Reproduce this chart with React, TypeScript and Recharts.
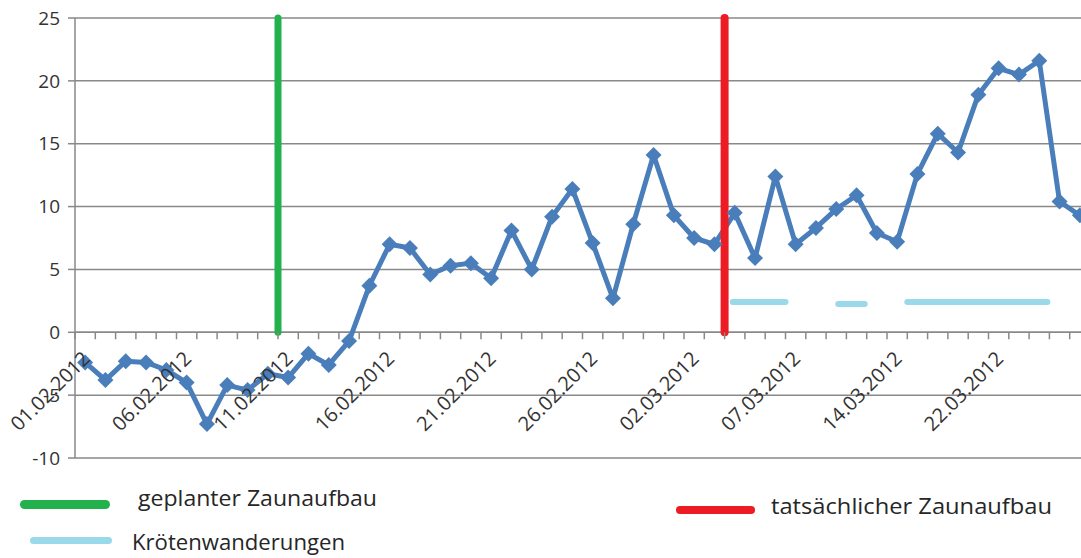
import React from "react"
import { LineChart, Line, XAxis, YAxis, CartesianGrid, ReferenceLine } from "recharts"

// Messtage (Kategorien der x-Achse)
const dates = [
  "01.02.2012", "02.02.2012", "03.02.2012", "04.02.2012", "05.02.2012",
  "06.02.2012", "07.02.2012", "08.02.2012", "09.02.2012", "10.02.2012",
  "11.02.2012", "12.02.2012", "13.02.2012", "14.02.2012", "15.02.2012",
  "16.02.2012", "17.02.2012", "18.02.2012", "19.02.2012", "20.02.2012",
  "21.02.2012", "22.02.2012", "23.02.2012", "24.02.2012", "25.02.2012",
  "26.02.2012", "27.02.2012", "28.02.2012", "29.02.2012", "01.03.2012",
  "02.03.2012", "03.03.2012", "04.03.2012", "05.03.2012", "06.03.2012",
  "07.03.2012", "08.03.2012", "10.03.2012", "11.03.2012", "13.03.2012",
  "14.03.2012", "15.03.2012", "17.03.2012", "18.03.2012", "20.03.2012",
  "22.03.2012", "23.03.2012", "24.03.2012", "25.03.2012", "26.03.2012",
]

// Temperaturwerte
const temps = [
  -2.4, -3.8, -2.3, -2.4, -3.0, -4.0, -7.3, -4.2, -4.6, -3.3,
  -3.6, -1.7, -2.6, -0.7, 3.7, 7.0, 6.7, 4.6, 5.3, 5.5,
  4.3, 8.1, 5.0, 9.2, 11.4, 7.1, 2.7, 8.6, 14.1, 9.3,
  7.5, 7.0, 9.5, 5.9, 12.4, 7.0, 8.3, 9.8, 10.9, 7.9,
  7.2, 12.6, 15.8, 14.3, 18.9, 21.0, 20.5, 21.6, 10.4, 9.3,
]

const yTicks = [-10, -5, 0, 5, 10, 15, 20, 25]

// Zaunaufbau: Grenze zwischen Messtagen (Index)
const geplanterZaun = 10
const tatsaechlicherZaun = 32

// Krötenwanderungen: [von, bis, Höhe]
const wanderungen = [
  [32.4, 35.0, 2.4],
  [37.6, 38.9, 2.25],
  [41.0, 47.9, 2.4],
]

const data = dates.map((d, i) => ({ pos: i + 0.5, datum: d, temp: temps[i] }))
const xTicks = Array.from({ length: dates.length + 1 }, (_, i) => i)

const CHART_W = 1100
const CHART_H = 558
const X_AXIS_H = 20
const MARGIN = { top: 18, right: 10, bottom: 100 - X_AXIS_H, left: 15 }
const Y_AXIS_W = 60
const PLOT_W = CHART_W - MARGIN.left - MARGIN.right - Y_AXIS_W
const PLOT_H = CHART_H - MARGIN.top - MARGIN.bottom - X_AXIS_H
const BAND = PLOT_W / dates.length
const ZERO_Y = MARGIN.top + (25 / 35) * PLOT_H

const BLUE = "#4A7EBB"
const GRID = "#898989"
const FONT = "'Open Sans', sans-serif"

const Diamond = (props: any) => {
  const { cx, cy } = props
  if (cx == null || cy == null) return null
  const r = 8
  return <path d={`M${cx} ${cy - r}L${cx + r} ${cy}L${cx} ${cy + r}L${cx - r} ${cy}Z`} fill={BLUE} />
}

const XTick = (props: any) => {
  const { x, payload } = props
  const v = payload.value
  const cx = x + BAND / 2
  const lx = cx + 6
  const ly = 360
  return (
    <g>
      <line x1={x} x2={x} y1={ZERO_Y} y2={ZERO_Y + 7} stroke={GRID} strokeWidth={1.5} />
      {v % 5 === 0 && v < dates.length && (
        <text
          x={lx}
          y={ly}
          textAnchor="end"
          transform={`rotate(-45 ${lx} ${ly})`}
          fill="#333"
          fontSize={20}
          fontFamily={FONT}
        >
          {dates[v]}
        </text>
      )}
    </g>
  )
}

export default function App() {
  return (
    <div style={{ position: "fixed", left: 0, top: 0, width: 1081, height: 558, overflow: "hidden", background: "#fff" }}>
      <LineChart width={CHART_W} height={CHART_H} data={data} margin={MARGIN}>
        <CartesianGrid vertical={false} stroke={GRID} strokeWidth={1.5} />
        <XAxis
          type="number"
          dataKey="pos"
          domain={[0, dates.length]}
          ticks={xTicks}
          interval={0}
          height={X_AXIS_H}
          axisLine={false}
          tickLine={false}
          tick={(p: any) => <XTick {...p} />}
        />
        <YAxis
          domain={[-10, 25]}
          ticks={yTicks}
          width={Y_AXIS_W}
          tickSize={7}
          tickMargin={8}
          axisLine={{ stroke: GRID, strokeWidth: 1.5 }}
          tickLine={{ stroke: GRID, strokeWidth: 1.5 }}
          tick={{ fill: "#333", fontSize: 19, fontFamily: FONT }}
        />
        <ReferenceLine y={0} stroke={GRID} strokeWidth={1.5} />
        <Line
          dataKey="temp"
          stroke={BLUE}
          strokeWidth={5}
          strokeLinejoin="round"
          dot={<Diamond />}
          activeDot={false}
          isAnimationActive={false}
        />
        {wanderungen.map(([a, b, h], i) => (
          <ReferenceLine
            key={i}
            segment={[{ x: a, y: h }, { x: b, y: h }]}
            stroke="#99D9EA"
            strokeWidth={6}
            strokeLinecap="round"
          />
        ))}
        <ReferenceLine
          segment={[{ x: geplanterZaun, y: 0 }, { x: geplanterZaun, y: 25 }]}
          stroke="#22B14C"
          strokeWidth={7}
          strokeLinecap="round"
        />
        <ReferenceLine
          segment={[{ x: tatsaechlicherZaun, y: 0 }, { x: tatsaechlicherZaun, y: 25 }]}
          stroke="#ED1C24"
          strokeWidth={8}
          strokeLinecap="round"
        />
      </LineChart>
      <svg width={1081} height={558} style={{ position: "absolute", left: 0, top: 0, pointerEvents: "none" }}>
        <line x1={24.5} x2={105.5} y1={504.5} y2={504.5} stroke="#22B14C" strokeWidth={9} strokeLinecap="round" />
        <text x={138} y={506} fontSize={21} fontFamily={FONT} fill="#262626" textLength={239} lengthAdjust="spacingAndGlyphs">
          geplanter Zaunaufbau
        </text>
        <line x1={33.5} x2={108.5} y1={540.5} y2={540.5} stroke="#99D9EA" strokeWidth={7} strokeLinecap="round" />
        <text x={132} y={550} fontSize={21} fontFamily={FONT} fill="#262626" textLength={213} lengthAdjust="spacingAndGlyphs">
          Krötenwanderungen
        </text>
        <line x1={680} x2={751} y1={510} y2={510} stroke="#ED1C24" strokeWidth={8} strokeLinecap="round" />
        <text x={771} y={514} fontSize={21} fontFamily={FONT} fill="#262626" textLength={281} lengthAdjust="spacingAndGlyphs">
          tatsächlicher Zaunaufbau
        </text>
      </svg>
    </div>
  )
}
